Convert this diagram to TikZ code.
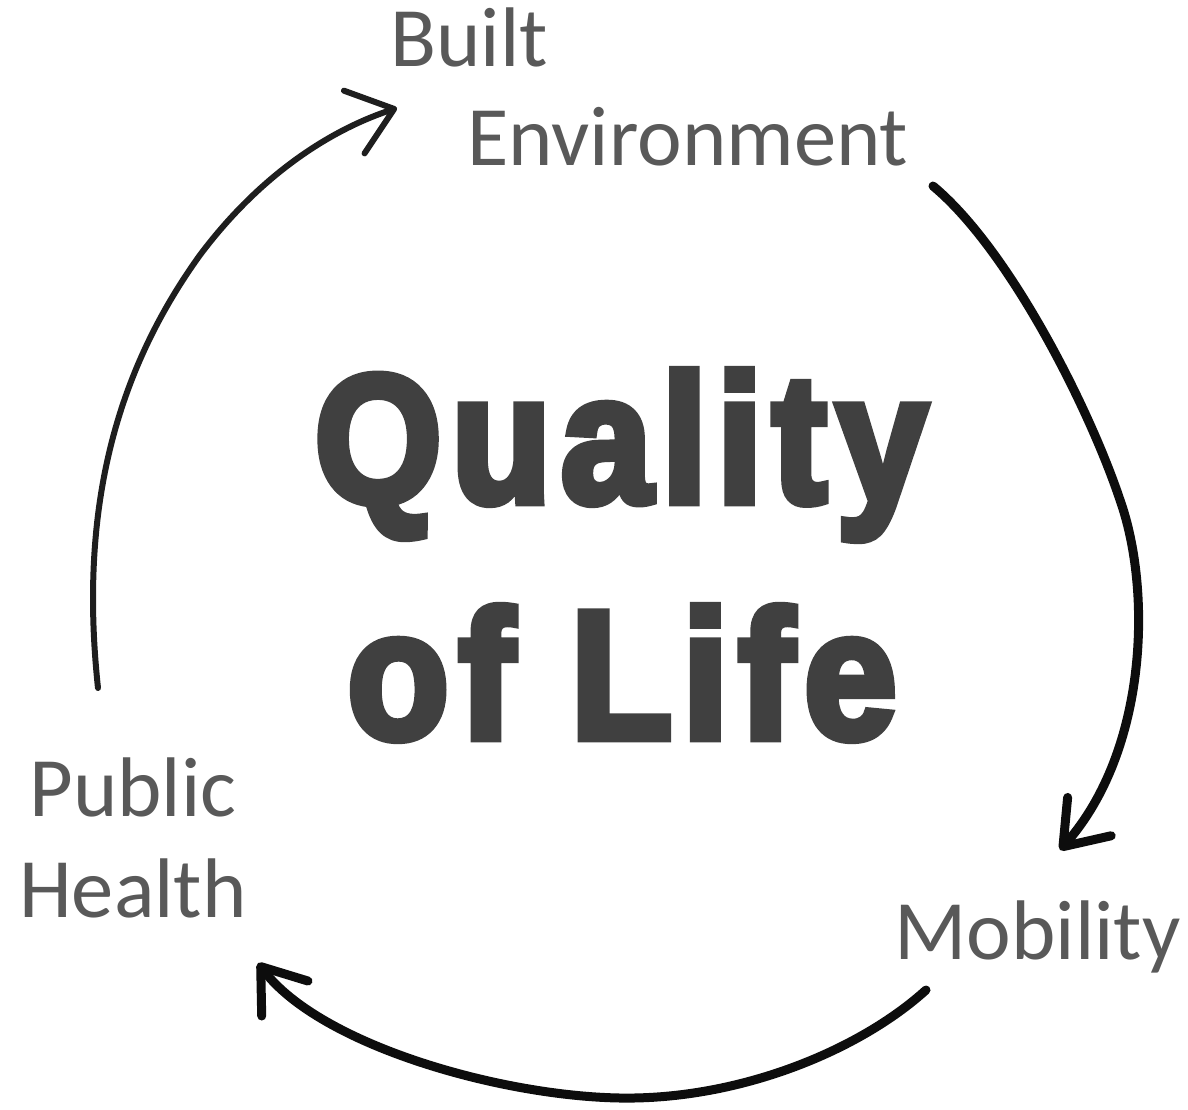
\documentclass[tikz,border=0pt]{standalone}
\usepackage{fontspec}
\usepackage{graphicx}
\setmainfont{Carlito}
\newfontfamily\qfont{Liberation Sans}[BoldFeatures={FakeBold=4.8,LetterSpace=6}]
\usetikzlibrary{arrows.meta}
\definecolor{lblgray}{HTML}{595959}
\definecolor{qolgray}{HTML}{404040}
\definecolor{ink}{HTML}{0D0D0D}
\definecolor{inkthin}{HTML}{1E1E1E}
\begin{document}
\begin{tikzpicture}[x=0.5pt,y=-0.5pt,
  lbltext/.style={font=\fontsize{42.3}{48}\selectfont, text=lblgray, inner sep=0pt},
  bigtext/.style={font=\qfont\bfseries\fontsize{91}{100}\selectfont, text=qolgray, inner sep=0pt},
  hand/.style={line cap=round, line join=round},
  archeavy/.style={hand, draw=ink, line width=4.5pt, -{Straight Barb[length=20pt,width=29pt,round]}},
  arclight/.style={hand, draw=inkthin, line width=3pt, -{Straight Barb[length=21pt,width=33pt,round]}}]
\useasboundingbox (0,0) rectangle (1188,1109);

% labels
\node[lbltext, anchor=base west] (built) at (390,66) {Built};
\node[lbltext, anchor=base west] (env) at (467,165) {Environment};
\node[lbltext, anchor=base west] (mob) at (894,959) {Mobility};
\node[lbltext, anchor=base] (pub) at (133,816) {Public};
\node[lbltext, anchor=base] (health) at (133,917) {Health};

% centre title
\node[bigtext, anchor=base] (q1) at (621,502) {\scalebox{0.898}[1]{Quality}};
\node[bigtext, anchor=base] (q2) at (622,738) {\scalebox{0.915}[1]{of Life}};

% connector end points
\coordinate (r0) at (933,186);
\coordinate (r1) at (1060,850);
\coordinate (b0) at (926,990);
\coordinate (b1) at (258,963);
\coordinate (l0) at (98,688);
\coordinate (l1) at (397,108);

% Built Environment -> Mobility
\draw[archeavy] (r0) .. controls (1010,250) and (1090,410) .. (1120,500)
                     .. controls (1152,590) and (1148,750) .. (r1);

% Mobility -> Public Health
\draw[archeavy] (b0) .. controls (860,1050) and (740,1100) .. (620,1098)
                     .. controls (500,1096) and (320,1045) .. (b1);

% Public Health -> Built Environment
\draw[arclight] (l0) .. controls (80,520) and (110,380) .. (200,255)
                     .. controls (260,175) and (330,130) .. (l1);
\end{tikzpicture}
\end{document}
